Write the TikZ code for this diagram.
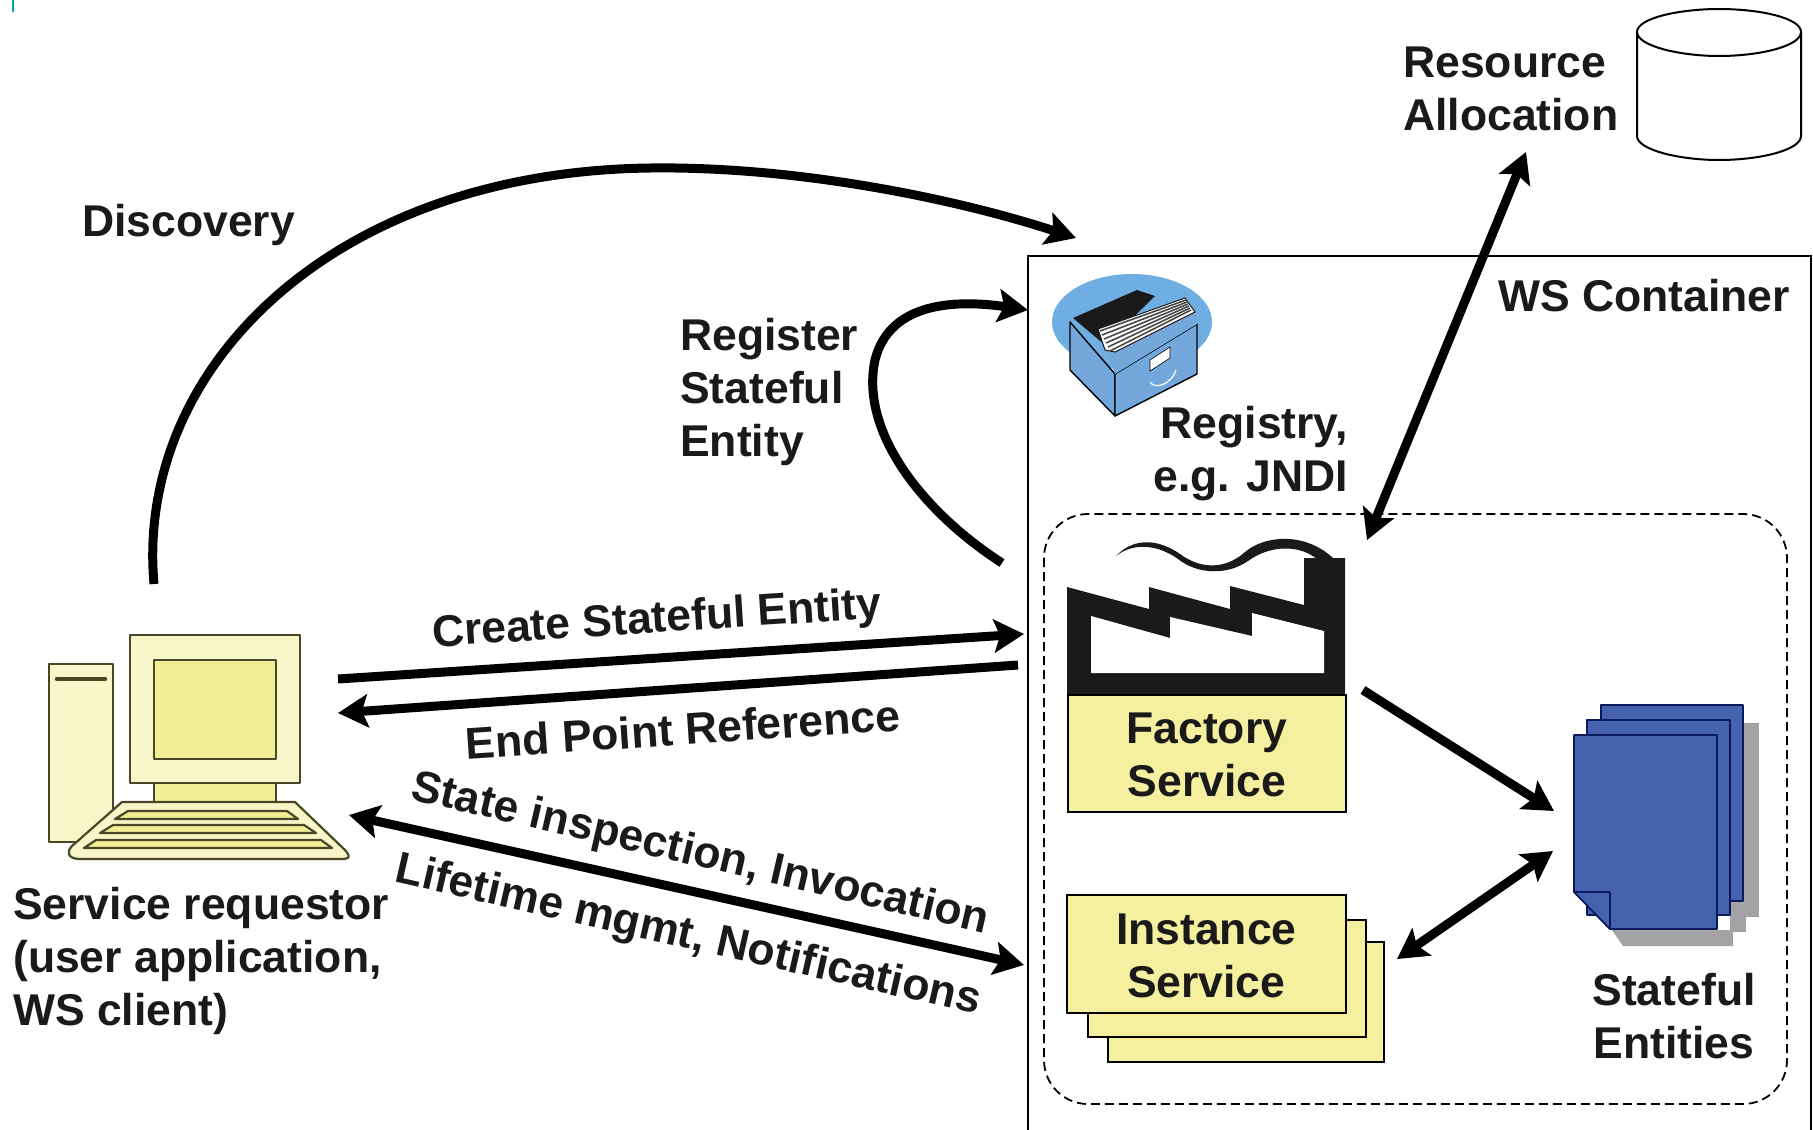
\documentclass[tikz,border=0pt]{standalone}
\usepackage{fontspec}
\setmainfont{Liberation Sans}
\usetikzlibrary{arrows.meta}
\definecolor{inkk}{HTML}{1A1A1A}
\definecolor{boxy}{HTML}{F5F0A0}
\definecolor{pcl}{HTML}{F8F5C8}
\definecolor{pcs}{HTML}{F2EE98}
\definecolor{pcline}{HTML}{4A4628}
\definecolor{docb}{HTML}{4462AE}
\definecolor{docl}{HTML}{0A1A5A}
\definecolor{shad}{HTML}{A3A3A6}
\definecolor{regb}{HTML}{6FAEE2}
\definecolor{regd}{HTML}{74A8DC}
\tikzset{
  x=1pt,y=-1pt,
  lbl/.style={font=\bfseries\fontsize{44.5}{53}\selectfont,text=inkk,inner sep=0pt,align=left},
  lblc/.style={lbl,align=center},
  conn/.style={line width=9pt,draw=black,-{Stealth[length=30pt,width=33pt,inset=6pt]}},
  conn2/.style={line width=9pt,draw=black,{Stealth[length=30pt,width=33pt,inset=6pt]}-{Stealth[length=30pt,width=33pt,inset=6pt]}},
  sbox/.style={draw=black,line width=1.6pt,fill=boxy},
  pc/.style={draw=pcline,line width=2.2pt,line join=round},
  docp/.style={draw=docl,line width=1.6pt,fill=docb,line join=round},
}
\begin{document}
\begin{tikzpicture}
\useasboundingbox (0,0) rectangle (1813,1130);
\fill[white] (0,0) rectangle (1813,1130);
\draw[color=teal!70!cyan,line width=1.5pt] (13,0) -- (13,12);

% container
\draw[line width=1.6pt,draw=black] (1028,1130) -- (1028,256) -- (1811,256) -- (1811,1130);
\draw[line width=1.8pt,dash pattern=on 9pt off 5pt,rounded corners=44pt] (1044,514) rectangle (1787,1104);

% cylinder
\path[draw=black,line width=2pt,fill=white] (1637,32) -- (1637,136)
  .. controls (1637,150) and (1680,160) .. (1719,160)
  .. controls (1760,160) and (1801,150) .. (1801,136) -- (1801,32)
  .. controls (1801,18) and (1760,9) .. (1719,9)
  .. controls (1680,9) and (1637,18) .. (1637,32) -- cycle;
\draw[line width=2pt] (1637,32) .. controls (1637,46) and (1680,56) .. (1719,56)
  .. controls (1760,56) and (1801,46) .. (1801,32);
\node[lbl,anchor=north west] (res) at (1403,47) {Resource\\Allocation};

% computer
\draw[pc,fill=pcl] (49,664) rectangle (113,842);
\draw[pcline,line width=4.5pt,line cap=round] (57,679) -- (105,679);
\draw[pc,fill=pcl] (130,635) rectangle (300,783);
\draw[pc,fill=pcs] (154,660) rectangle (276,759);
\draw[pc,fill=pcs] (154,783) rectangle (276,802);
\path[pc,fill=pcl] (122,802) -- (295,802) -- (345,850)
  .. controls (352,858) and (349,859) .. (340,859) -- (80,859)
  .. controls (68,859) and (66,852) .. (72,846) -- cycle;
\draw[pc,fill=pcs] (128,811) -- (287,811) -- (298,819) -- (115,819) -- cycle;
\draw[pc,fill=pcs] (113,825) -- (304,825) -- (316,833) -- (100,833) -- cycle;
\draw[pc,fill=pcs] (96,840) -- (321,840) -- (332,848) -- (84,848) -- cycle;
\node[lbl,anchor=north west] (req) at (13,887) {Service requestor\\(user application,\\WS client)};

% registry icon
\fill[regb] (1132,322) ellipse [x radius=80, y radius=48];
\path[fill=regd,draw=black,line width=1.4pt,line join=round] (1070,322) -- (1115,374) -- (1115,416) -- (1070,370) -- cycle;
\path[fill=regd,draw=black,line width=1.4pt,line join=round] (1115,374) -- (1197,324) -- (1197,374) -- (1115,416) -- cycle;
\path[fill=inkk] (1073,318) -- (1137,290) -- (1155,296) -- (1105,345) -- cycle;
\path[fill=regd] (1105,345) -- (1197,311) -- (1197,324) -- (1115,374) -- cycle;
\path[fill=white,draw=inkk,line width=1pt] (1098,329) -- (1185,298) -- (1195,312) -- (1115,352) -- (1105,350) -- cycle;
\foreach \k in {0,...,5}{\draw[draw=inkk!80,line width=1.6pt] ({1100+\k*2},{331+\k*4}) -- ({1186+\k},{300+\k*2});}
\path[fill=white,draw=black,line width=.6pt] (1150,360) -- (1170,347) -- (1170,358) -- (1150,371) -- cycle;
\draw[white,line width=1.2pt] (1150,382) .. controls (1155,390) and (1172,384) .. (1176,370);
\node[lblc,align=right,anchor=north east] (reg) at (1348,406) {Registry,\\e.g. JNDI};

% factory
\path[fill=inkk] (1067,587) -- (1149,609) -- (1149,587) -- (1230,609) -- (1230,586) -- (1304,605) -- (1304,558) -- (1345,558) -- (1345,694) -- (1067,694) -- cycle;
\path[fill=white] (1091,616) -- (1170,638) -- (1170,617) -- (1252,636) -- (1252,613) -- (1324,631) -- (1324,673) -- (1091,673) -- cycle;
\path[fill=inkk] (1116,556) .. controls (1135,536) and (1160,540) .. (1180,554)
  .. controls (1200,569) and (1225,570) .. (1245,552)
  .. controls (1265,535) and (1305,532) .. (1333,558)
  -- (1318,560) .. controls (1300,544) and (1270,545) .. (1248,561)
  .. controls (1228,575) and (1198,575) .. (1178,559)
  .. controls (1160,546) and (1135,541) .. cycle;
\node[sbox,minimum width=278pt,minimum height=117pt,anchor=north west,lblc,draw=black] (fact) at (1067,694) {\rule{0pt}{34pt}Factory\\Service};

% instance
\draw[sbox] (1108,942) rectangle (1384,1062);
\draw[sbox] (1088,920) rectangle (1366,1037);
\node[sbox,minimum width=279pt,minimum height=118pt,anchor=north west,lblc,draw=black] (inst) at (1066,894) {\rule{0pt}{34pt}Instance\\Service};

% stateful entities
\fill[shad] (1744,723) rectangle (1759,917);
\fill[shad] (1730,901) rectangle (1746,932);
\fill[shad] (1612,930) -- (1733,930) -- (1733,946) -- (1623,946) -- cycle;
\draw[docp] (1601,705) rectangle (1743,901);
\draw[docp] (1587,720) rectangle (1730,915);
\path[docp] (1574,735) -- (1717,735) -- (1717,929) -- (1610,929) -- (1574,892) -- cycle;
\path[docp] (1574,892) -- (1610,892) -- (1610,929) -- cycle;
\node[lblc,anchor=north] (ent) at (1674,973) {Stateful\\Entities};
\coordinate (sc1) at (1554,811);
\coordinate (sc2) at (1553,851);

% free ends
\coordinate (a1) at (154,584);
\coordinate (a2) at (1076,238);
\coordinate (b1) at (1002,563);
\coordinate (b2) at (1028,310);
\coordinate (c1) at (338,679);
\coordinate (c2) at (1024,634);
\coordinate (d1) at (1018,665);
\coordinate (d2) at (338,713);
\coordinate (e1) at (349,815);
\coordinate (e2) at (1024,965);
\coordinate (f1) at (1526,152);
\coordinate (f2) at (1367,540);
\coordinate (g1) at (1363,690);
\coordinate (h1) at (1397,959);

\draw[conn] (a1) .. controls (135,370) and (330,172) .. (650,168) .. controls (800,166) and (960,200) .. (a2);
\draw[conn] (b1) .. controls (920,510) and (860,430) .. (875,360) .. controls (890,300) and (960,300) .. (b2);
\draw[conn] (c1) -- (c2);
\draw[conn] (d1) -- (d2);
\draw[conn2] (e1) -- (e2);
\draw[conn2] (f1) -- (f2);
\draw[conn] (g1) -- (sc1);
\draw[conn2] (h1) -- (sc2);

\node[lbl,anchor=west] (disc) at (82,225) {Discovery};
\node[lbl,anchor=north west] (regse) at (680,318) {Register\\Stateful\\Entity};
\node[lbl,anchor=west] (ws) at (1498,296) {WS Container};
\node[lbl,rotate=3.7] (cse) at (657,621) {Create Stateful Entity};
\node[lbl,rotate=3.8] (epr) at (683,729) {End Point Reference};
\node[lbl,rotate=-13.1] (insp) at (700,855) {State inspection, Invocation};
\node[lbl,rotate=-12.8] (life) at (688,937) {Lifetime mgmt, Notifications};
\end{tikzpicture}
\end{document}
